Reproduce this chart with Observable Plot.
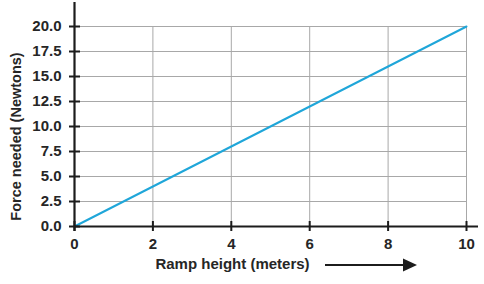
<!DOCTYPE html>
<html>
<head>
<meta charset="utf-8">
<script src="https://cdn.jsdelivr.net/npm/d3@7"></script>
<script src="https://cdn.jsdelivr.net/npm/@observablehq/plot@0.6"></script>
<style>
  html, body { margin: 0; padding: 0; background: #fff; }
</style>
</head>
<body>
<div id="chart"></div>
<script>
const heights = [0, 2, 4, 6, 8, 10];
const forces = [0, 4, 8, 12, 16, 20];
const xTicks = [0, 2, 4, 6, 8, 10];
const yTicks = [0, 2.5, 5, 7.5, 10, 12.5, 15, 17.5, 20];
const xLabel = "Ramp height (meters)";
const yLabel = "Force needed (Newtons)";

const data = heights.map((h, i) => ({h, f: forces[i]}));
const ink = "#1c1c1c";
const textInk = "#262626";
const gridInk = "#a8a8a8";
const font = "Liberation Sans, Arial, Helvetica, sans-serif";
const blank = () => "";

const plot = Plot.plot({
  width: 484,
  height: 284,
  marginLeft: 74,
  marginRight: 18,
  marginTop: 26,
  marginBottom: 58,
  style: {background: "#fff", fontFamily: font, overflow: "visible"},
  x: {domain: [0, 10], label: null},
  y: {domain: [0, 20], label: null},
  marks: [
    Plot.gridX(xTicks.filter(d => d > 0), {stroke: gridInk, strokeOpacity: 1, strokeWidth: 1}),
    Plot.gridY(yTicks.filter(d => d > 0), {stroke: gridInk, strokeOpacity: 1, strokeWidth: 1}),
    Plot.line(data, {x: "h", y: "f", stroke: "#1fa6d9", strokeWidth: 2}),
    Plot.ruleX([0], {stroke: ink, strokeWidth: 2.2, insetTop: -24, insetBottom: -5}),
    Plot.ruleY([0], {stroke: ink, strokeWidth: 2.2, insetRight: -12}),
    Plot.axisX({ticks: xTicks, tickSize: 10, dy: -5, stroke: ink, strokeWidth: 2, tickFormat: blank, label: null}),
    Plot.axisX({ticks: xTicks, tickSize: 0, tickPadding: 12, fontSize: 15, fontWeight: "bold", fill: textInk, fontFamily: font, label: null}),
    Plot.axisY({ticks: yTicks, tickSize: 11, dx: 6, stroke: ink, strokeWidth: 2, tickFormat: blank, label: null}),
    Plot.axisY({ticks: yTicks, tickSize: 0, tickPadding: 13, tickFormat: d3.format(".1f"), fontSize: 15, fontWeight: "bold", fill: textInk, fontFamily: font, label: null}),
    Plot.text([xLabel], {frameAnchor: "bottom", textAnchor: "middle", dx: -38, dy: 38, lineAnchor: "middle", fontSize: 15, fontWeight: "bold", fill: textInk, fontFamily: font}),
    Plot.text([yLabel], {frameAnchor: "left", textAnchor: "middle", rotate: -90, dx: -58, dy: 10, lineAnchor: "middle", fontSize: 14.5, fontWeight: "bold", fill: textInk, fontFamily: font})
  ]
});

// decorative direction arrow next to the x-axis label
const svg = d3.select(plot);
svg.append("line")
  .attr("x1", 325).attr("x2", 405).attr("y1", 265).attr("y2", 265)
  .attr("stroke", ink).attr("stroke-width", 2);
svg.append("polygon")
  .attr("points", "403,258.5 417,265 403,271.5")
  .attr("fill", ink);

document.getElementById("chart").appendChild(plot);
</script>
</body>
</html>
